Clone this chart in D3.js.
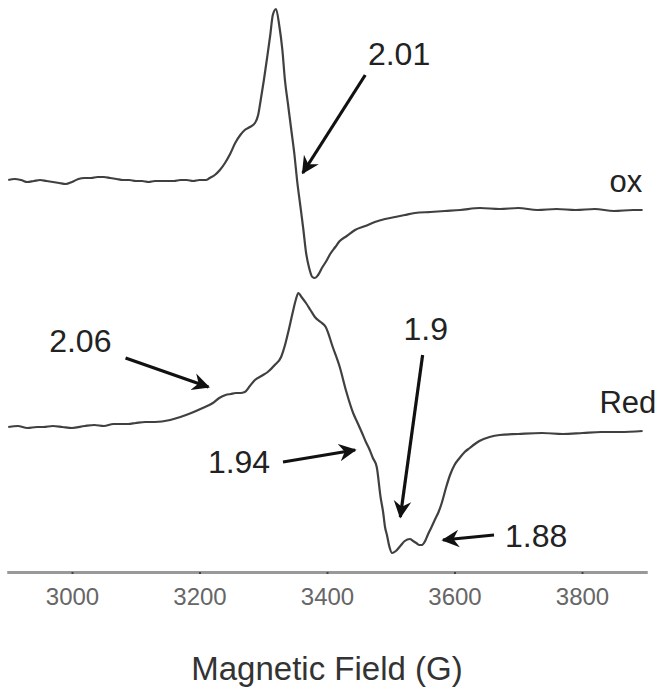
<!DOCTYPE html>
<html>
<head>
<meta charset="utf-8">
<script src="https://cdn.jsdelivr.net/npm/d3@7/dist/d3.min.js"></script>
<style>
  html, body { margin: 0; padding: 0; background: #ffffff; }
  svg { display: block; }
</style>
</head>
<body>
<div id="chart"></div>
<script>
// ---- Data ----
// Oxidized spectrum (field in G, derivative signal in a.u.)
const oxField = [2900,2910,2920,2930,2940,2950,2960,2970,2980,2990,3000,3010,3020,3030,3040,3050,3060,3070,3080,3090,3100,3110,3120,3130,3140,3150,3160,3170,3180,3190,3200,3210,3216,3224,3232,3240,3248,3256,3264,3271,3279,3287,3292,3296,3301,3306,3311,3315,3320,3325,3330,3334,3339,3344,3349,3353,3358,3363,3367,3372,3377,3381,3386,3392,3399,3405,3413,3420,3431,3444,3460,3475,3491,3507,3522,3538,3562,3585,3609,3640,3671,3700,3730,3760,3790,3820,3850,3880,3895];
const oxSignal = [0,1,0,-2,-1,0,-1,-2,-3,-4,-2,1,2,2,3,3,2,1,0,0,-1,-1,-2,-1,-1,-1,-1,0,0,-1,0,0,2,5,10,17,26,37,45,50,53,57,65,80,100,122,145,165,171,155,130,100,75,50,25,0,-25,-50,-72,-88,-97,-98,-95,-88,-81,-74,-67,-61,-56,-50,-46,-42,-39,-37,-35,-33,-32,-31,-30,-28,-29,-28,-30,-29,-30,-29,-31,-30,-30];

// Reduced spectrum
const redField = [2900,2915,2930,2945,2955,2970,2985,3000,3020,3035,3050,3065,3088,3100,3115,3130,3154,3170,3187,3205,3221,3231,3241,3249,3257,3264,3271,3279,3287,3297,3307,3318,3328,3335,3340,3346,3351,3355,3360,3367,3374,3381,3390,3398,3409,3420,3430,3441,3448,3455,3461,3467,3472,3478,3484,3488,3491,3494,3498,3502,3508,3515,3522,3530,3535,3540,3545,3549,3554,3558,3564,3569,3575,3580,3587,3593,3600,3608,3616,3624,3632,3639,3655,3671,3700,3737,3770,3801,3830,3860,3895];
const redSignal = [0,1,-1,0,0,1,0,-1,1,2,1,3,3,4,5,5,7,10,14,19,24,29,32,33,34,34,35,41,47,51,55,62,70,84,97,114,127,134,130,124,117,110,105,100,80,60,36,14,4,-6,-15,-23,-31,-40,-70,-85,-100,-108,-120,-126,-124,-119,-114,-112,-114,-116,-118,-118,-114,-108,-100,-93,-85,-76,-60,-48,-38,-31,-25,-21,-17,-14,-10,-8,-7,-6,-7,-6,-5,-5,-4];

// Vertical stacking offsets of the two traces (a.u.)
const traceNames = ["ox", "Red"];
const traceOffsets = [247, 0];

// Axis
const xDomain = [2900, 3900];
const xTicks = [3000, 3200, 3400, 3600, 3800];
const xTitle = "Magnetic Field (G)";

// Annotations: label, arrow tail (field, a.u.), arrow tip (field, a.u.), label anchor (field, a.u.)
const annoLabels = ["2.01", "2.06", "1.94", "1.9", "1.88"];
const annoTail = [[3460, 352], [3084, 69], [3331, -35], [3550, 72], [3662, -108]];
const annoTip = [[3362, 254], [3214, 40], [3444, -23], [3515, -90], [3582, -113]];
const annoText = [[3513, 362], [3013, 75], [3262, -46], [3555, 87], [3728, -120]];

// Trace name labels (field, a.u.)
const nameText = [[3869, 235], [3872, 14]];

// ---- Drawing ----
const W = 664, H = 699;
const svg = d3.select("#chart").append("svg")
  .attr("width", W).attr("height", H)
  .style("font-family", "'Liberation Sans', Arial, sans-serif");

const x = d3.scaleLinear().domain(xDomain).range([8.25, 645.75]);
const y = d3.scaleLinear().domain([-145, 425]).range([572, 2]);

const line = d3.line().curve(d3.curveMonotoneX)
  .x(d => x(d[0])).y(d => y(d[1]));

const traces = [
  d3.zip(oxField, oxSignal.map(v => v + traceOffsets[0])),
  d3.zip(redField, redSignal.map(v => v + traceOffsets[1]))
];

svg.selectAll("path.trace").data(traces).join("path")
  .attr("class", "trace")
  .attr("d", line)
  .attr("fill", "none")
  .attr("stroke", "#404040")
  .attr("stroke-width", 2.2)
  .attr("stroke-linejoin", "round");

// Axis
const axisY = 572;
const axis = d3.axisBottom(x).tickValues(xTicks).tickSize(2).tickPadding(14).tickFormat(d3.format("d"));
const gAxis = svg.append("g").attr("transform", `translate(0,${axisY})`).call(axis);
gAxis.select(".domain").attr("stroke", "#999").attr("stroke-width", 3);
gAxis.selectAll(".tick line").attr("stroke", "#444").attr("stroke-width", 2);
gAxis.selectAll(".tick text")
  .attr("fill", "#666")
  .style("font-size", "24px")
  .style("font-family", "'Liberation Sans', Arial, sans-serif");

svg.append("text")
  .attr("x", (x.range()[0] + x.range()[1]) / 2)
  .attr("y", 680)
  .attr("text-anchor", "middle")
  .attr("fill", "#333")
  .style("font-size", "33px")
  .text(xTitle);

// Arrow marker
svg.append("defs").append("marker")
  .attr("id", "ah")
  .attr("viewBox", "0 0 12 12")
  .attr("refX", 10).attr("refY", 6)
  .attr("markerWidth", 6).attr("markerHeight", 6)
  .attr("markerUnits", "strokeWidth")
  .attr("orient", "auto")
  .append("path")
  .attr("d", "M0,0.5 L11,6 L0,11.5 L3.5,6 Z")
  .attr("fill", "#111");

const annos = annoLabels.map((t, i) => ({ t, tail: annoTail[i], tip: annoTip[i], txt: annoText[i] }));

svg.selectAll("line.arrow").data(annos).join("line")
  .attr("class", "arrow")
  .attr("x1", d => x(d.tail[0])).attr("y1", d => y(d.tail[1]))
  .attr("x2", d => x(d.tip[0])).attr("y2", d => y(d.tip[1]))
  .attr("stroke", "#111").attr("stroke-width", 3.2)
  .attr("marker-end", "url(#ah)");

svg.selectAll("text.anno").data(annos).join("text")
  .attr("class", "anno")
  .attr("x", d => x(d.txt[0])).attr("y", d => y(d.txt[1]))
  .attr("text-anchor", "middle")
  .attr("fill", "#222")
  .style("font-size", "32px")
  .text(d => d.t);

svg.selectAll("text.name").data(traceNames).join("text")
  .attr("class", "name")
  .attr("x", (d, i) => x(nameText[i][0])).attr("y", (d, i) => y(nameText[i][1]))
  .attr("text-anchor", "middle")
  .attr("fill", "#222")
  .style("font-size", "31px")
  .text(d => d);
</script>
</body>
</html>
